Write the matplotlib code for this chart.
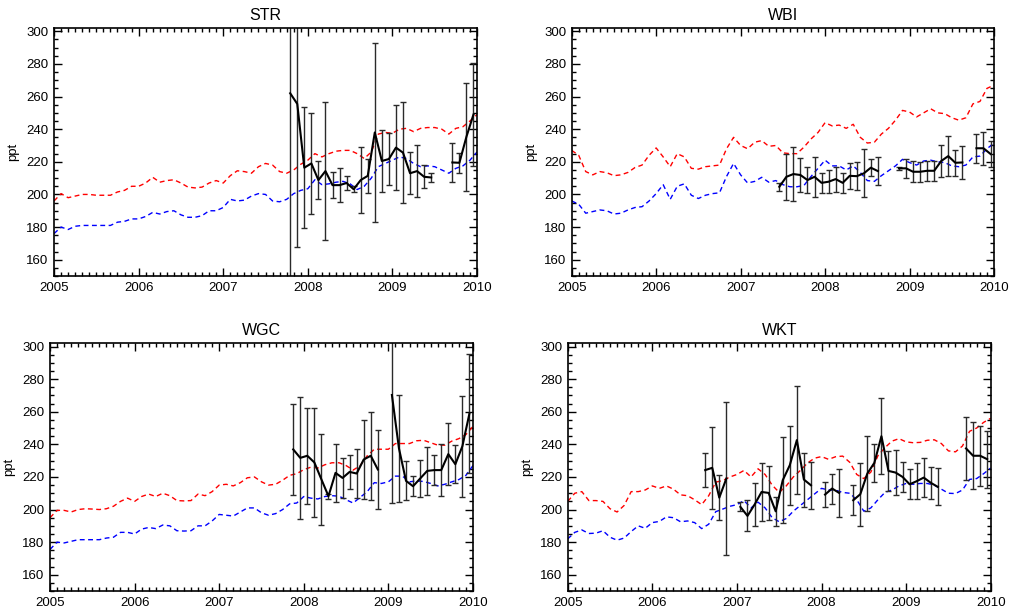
import numpy as np
import matplotlib
matplotlib.use('Agg')
import matplotlib.pyplot as plt
from matplotlib.ticker import MultipleLocator

plt.rcParams['font.family'] = ['Liberation Sans', 'DejaVu Sans']

# monthly model curves, 2005.0 .. 2010.0 (61 values each)
str_red = [196, 200.5, 198, 199, 200, 200, 199.5, 199.5, 199.5, 201.5, 202.5, 205,
           205, 207, 210.5, 207.5, 208.5, 209, 207, 204.5, 204, 204.5, 207, 208.5,
           207, 211.5, 214.5, 214, 213, 217, 219, 218, 214, 213, 215, 218.5,
           221, 225, 223, 225, 226.5, 227, 227, 225, 222, 226, 237, 238,
           237.5, 240, 240.5, 238.5, 240.5, 241, 241, 240, 237, 240.5, 241.5, 245, 249]
str_blue = [176, 180, 178.5, 180.5, 181, 181, 181, 181, 181, 183, 183.5, 185,
            185, 186.5, 189, 188, 189.5, 190, 187.5, 186, 186, 187, 190, 190,
            192, 197, 196, 196.5, 199, 200.5, 200, 196, 195.5, 197, 200.5, 202.5,
            203.5, 209, 206, 206.5, 207.5, 208, 206.5, 203, 205, 210, 217, 219,
            221, 223, 222, 219, 217, 217.5, 217, 215, 213, 216, 217.5, 221, 226]

wbi_red = [227, 224, 214, 212, 214, 213.3, 211.5, 212, 213.5, 216.5, 218, 224,
           228.5, 223, 217, 225, 223, 216, 215.5, 217, 217.5, 218, 228, 235,
           230, 228, 232, 233, 229.5, 230, 225.5, 225, 225, 229, 234, 238,
           244, 242, 242.5, 240.5, 243, 235, 231.5, 232, 237, 240.5, 245.5, 251.5,
           250.5, 247.5, 250, 252.5, 250, 249.5, 247, 245.5, 247, 255.5, 257, 265, 267]
wbi_blue = [196, 194, 188.5, 189.5, 190.5, 190, 188, 188.5, 190.5, 192, 192.5, 196,
            200.5, 206, 197, 205, 206.5, 199.5, 197.5, 199.5, 200.5, 201, 211, 219,
            212, 207, 208, 210.5, 207.5, 208.5, 206, 204.7, 204.7, 205.5, 211, 216,
            221, 217.5, 217.5, 215, 217.5, 213.5, 208.5, 208, 211.5, 214.5, 217.5, 221.5,
            219.5, 218, 220.5, 221, 220, 219.5, 217.5, 217, 218, 223, 223.5, 228, 231.5]

wgc_red = [195, 199.5, 199.5, 198.5, 200, 200.5, 200.3, 200, 200.5, 202, 205, 207,
           205, 208, 209.5, 208, 210, 208.5, 205.5, 205.3, 205.5, 209.5, 208.5, 211,
           215, 215.5, 214.5, 216.5, 219.5, 220, 217, 215, 215.5, 218, 221, 222,
           224.5, 226, 225.5, 227.5, 228.7, 228.7, 227, 224.2, 227, 233, 237, 237,
           237, 240.5, 240.5, 240.5, 242.2, 242.5, 241, 239.5, 239.5, 242, 243.5, 246, 251]
wgc_blue = [175.5, 180, 179.5, 180.5, 181.5, 181.5, 181.5, 181.5, 182.5, 183, 186, 186,
            185, 188, 189, 188.3, 190.5, 190, 187, 186.8, 187, 190, 190, 193,
            197, 196.5, 196, 198.5, 201, 201, 198, 196.5, 197.5, 200, 203.5, 204,
            208, 207, 206.5, 208, 208.5, 208.2, 206, 204, 207.5, 211, 216.5, 216,
            217, 220.5, 220.5, 217, 217.6, 217.2, 216, 214.5, 215.5, 217, 218.4, 221, 227]

wkt_red = [205, 210, 211, 205.5, 205.5, 205, 200.5, 198.5, 202.5, 211, 211, 212,
           214.5, 213, 214.5, 212.5, 209, 208.5, 206, 203, 208.5, 216.8, 217.8, 220,
           221.5, 224, 220, 225, 221.5, 215, 210.5, 214.5, 220, 224, 228.5, 231.5,
           232.5, 230.8, 232.4, 232.8, 229, 221.5, 219, 223, 233, 238, 242, 243.5,
           241.5, 241, 241.2, 242.5, 242.8, 240.5, 236, 235.4, 239, 248, 250, 253.5, 256]
wkt_blue = [182, 186, 187.5, 185.3, 185.5, 187, 183, 181.2, 182.5, 186.5, 190, 188.5,
            192, 192.7, 195.5, 195, 192.5, 193, 192, 188.3, 191, 198.7, 200.3, 202,
            203, 205.5, 201, 204.5, 201, 195, 192.5, 194.5, 199, 202.5, 206, 209.5,
            213, 212, 211.9, 210.5, 210, 206, 199, 201, 206, 210.5, 212, 214.5,
            216, 215.5, 216, 216, 215, 212.5, 210, 209.8, 212, 218.5, 219, 222, 225.5]

nan = np.nan
# observed monthly means and errors, first month index given (0 = Jan 2005)
str_start = 33
str_obs = [262, 255.5, 216.4, 219, 208.8, 214.3, 205.7, 205.7, 207, 203.2, 208.8, 211.4,
           238, 220.5, 221.7, 228.7, 225.6, 213, 214.3, 210.8, 210.4, nan, nan,
           219.6, 219.4, 235.4, 249]
str_err = [130, 88, 37, 31, 11.5, 42.5, 8, 10.5, 4.2, 2, 20, 10.5,
           55, 19, 16, 26, 31, 13, 16, 7, 3, nan, nan,
           12, 6, 33, 31.5]

wbi_start = 29
wbi_obs = [204.7, 210.8, 212.5, 211.9, 208.8, 210.8, 207.1, 207.8, 209.4, 207.1, 211.4, 211.2,
           212.9, 216.4, 214.3, nan, nan, 216, 216, 213.9, 213.9, 214.5, 214.5, 220.5,
           223.5, 219.4, 219.6, nan, 228.3, 228.3, 224.8]
wbi_err = [2.3, 14, 16.7, 10.7, 8, 12.3, 6.2, 7, 7.7, 6, 8, 8.4,
           14.7, 5.2, 8.7, nan, nan, 1, 6, 6.4, 6, 6, 6, 10,
           12.3, 8, 10, nan, 9, 10, 8]

wgc_start = 34
wgc_obs = [236.9, 231.7, 233, 228.9, 218.5, 208.2, 222.5, 219.4, 223.1, 222.1, 230.7, 233,
           224.6, nan, 270.3, 237.5, 217.6, 214.3, 219, 223.7, 224.2, 224.2, 234, 227.8,
           238.9, 259]
wgc_err = [27.7, 37.4, 29.6, 33.7, 28, 1.5, 17.6, 12.2, 10.5, 15.2, 24, 27,
           24, nan, 66, 33, 12, 6, 11.5, 14.6, 9.3, 16, 19, 11.6,
           31, 36.7]

wkt_start = 19
wkt_obs = [224.2, 225.6, 207.3, 219, nan, 201.6, 196.1, 203, 210.8, 210.2, 198.9, 218,
           227.2, 242.6, 218.4, 214.9, nan, 209.2, 212.9, 210.2, nan, 205.7, 209.4, 222.1,
           228.7, 245, 223.7, 222.7, 220, 215.5, 217.4, 219.6, 216.4, 213.9, nan, nan,
           nan, 237.5, 233, 233, 230.9]
wkt_err = [10.3, 25, 14, 47, nan, 2.8, 9.5, 13, 18, 16.7, 8.7, 26.3,
           24.3, 33.3, 16.6, 14.5, nan, 7.7, 9.2, 14.8, nan, 9.2, 19.3, 23,
           11.8, 23.4, 12.4, 14, 9, 9.2, 11.2, 12, 9.7, 11.3, nan, nan,
           nan, 19.5, 20.6, 18.4, 17.4]

sites = ['STR', 'WBI', 'WGC', 'WKT']
reds = [str_red, wbi_red, wgc_red, wkt_red]
blues = [str_blue, wbi_blue, wgc_blue, wkt_blue]
obs = [str_obs, wbi_obs, wgc_obs, wkt_obs]
errs = [str_err, wbi_err, wgc_err, wkt_err]
starts = [str_start, wbi_start, wgc_start, wkt_start]

# axes boxes in figure fractions
boxes = [[0.0535, 0.5475, 0.4188, 0.4066],
         [0.5660, 0.5475, 0.4182, 0.4066],
         [0.0495, 0.0311, 0.4188, 0.4061],
         [0.5621, 0.0311, 0.4188, 0.4061]]

model_t = 2005 + np.arange(61) / 12.0

fig = plt.figure(figsize=(10.1, 6.1), dpi=100)

for i in range(4):
    ax = fig.add_axes(boxes[i])
    ax.plot(model_t, reds[i], color='red', lw=1.0, dashes=(3.5, 2.5))
    ax.plot(model_t, blues[i], color='blue', lw=1.0, dashes=(3.5, 2.5))

    y = np.asarray(obs[i], dtype=float)
    e = np.asarray(errs[i], dtype=float)
    t = 2005 + (starts[i] + np.arange(len(y)) + 0.5) / 12.0
    ax.errorbar(t, y, yerr=e, fmt='none', ecolor='#2a2a2a', elinewidth=1.0,
                capsize=2, capthick=1.0)
    ax.plot(t, y, color='black', lw=1.5)

    ax.set_xlim(2005, 2010)
    ax.set_ylim(150, 302)
    ax.set_xticks([2005, 2006, 2007, 2008, 2009, 2010])
    ax.set_xticklabels(['2005', '2006', '2007', '2008', '2009', '2010'])
    ax.set_yticks([160, 180, 200, 220, 240, 260, 280, 300])
    ax.xaxis.set_minor_locator(MultipleLocator(1 / 12.0))
    ax.yaxis.set_minor_locator(MultipleLocator(5))
    ax.tick_params(which='both', direction='in', top=True, right=True,
                   labelsize=9.5, width=1.0, colors='black')
    ax.tick_params(which='major', length=6, pad=4)
    ax.tick_params(which='minor', length=3)
    for sp in ax.spines.values():
        sp.set_linewidth(1.2)
    ax.set_ylabel('ppt', fontsize=9.5, labelpad=5)
    ax.set_title(sites[i], fontsize=11.5, pad=6)

plt.savefig('out.png', dpi=100)
